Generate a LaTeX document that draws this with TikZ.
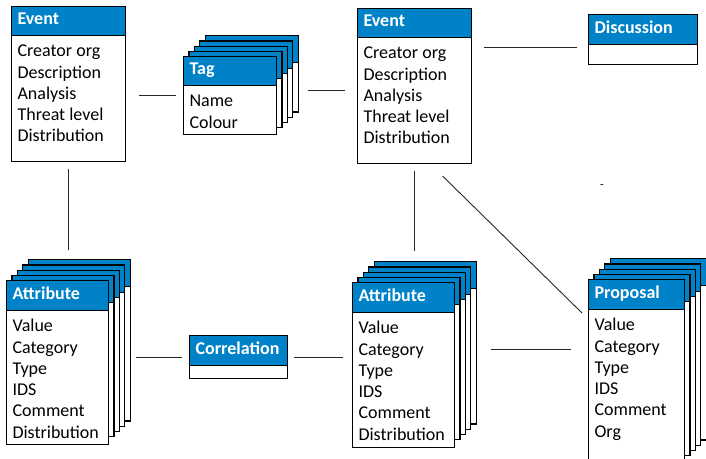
\documentclass[tikz,border=0pt]{standalone}
\usepackage{fontspec}
\setmainfont{Carlito}
\usepackage{tikz}
\usetikzlibrary{shapes}
\usetikzlibrary{shapes.multipart}

\definecolor{hdrblue}{RGB}{0,130,200}
\newcommand{\clshead}[1]{\rule[-4pt]{0pt}{14pt}\textcolor{white}{\bfseries #1}}
\newcommand{\clsbody}[3]{\parbox[t][#1][t]{#2}{\strut #3}}
\newcommand{\clsblank}[2]{\rule{#1}{0pt}\rule{0pt}{#2}}

\tikzset{
  cls/.style={draw, line width=1.1pt,
    rectangle split, rectangle split parts=2,
    rectangle split part fill={hdrblue,white},
    rectangle split part align={left},
    anchor=north west, inner xsep=6pt, inner ysep=6pt,
    font=\fontsize{18}{21.3}\selectfont},
  layer/.style={cls, xshift=#1*5.4pt, yshift=#1*5.2pt},
  link/.style={line width=0.9pt, black!85}
}

\begin{document}
\begin{tikzpicture}[x=1pt,y=-1pt]
\useasboundingbox (0,0) rectangle (706,458);

\node[cls] (evA) at (11,6)
  {\clshead{Event}
     \nodepart{second} \clsbody{113pt}{102pt}{Creator org\\ Description\\ Analysis\\ Threat level\\ Distribution}};

\foreach \k in {4,3,2,1}
  \node[layer=\k] (tag\k) at (183,56)
    {\clshead{} \nodepart{second} \clsbody{36pt}{81pt}{}};
\node[cls] (tag) at (183,56)
  {\clshead{Tag}
     \nodepart{second} \clsbody{36pt}{81pt}{Name\\ Colour}};

\node[cls] (evB) at (357,8)
  {\clshead{Event}
     \nodepart{second} \clsbody{113pt}{102pt}{Creator org\\ Description\\ Analysis\\ Threat level\\ Distribution}};

\node[cls] (disc) at (588,14)
  {\clshead{Discussion}
     \nodepart{second} \clsblank{97pt}{7pt}};

\node[font=\fontsize{12}{12}\selectfont] (stray) at (602,187) {-};

\foreach \k in {4,3,2,1}
  \node[layer=\k] (attrA\k) at (6,280)
    {\clshead{} \nodepart{second} \clsbody{121pt}{90pt}{}};
\node[cls] (attrA) at (6,280)
  {\clshead{Attribute}
     \nodepart{second} \clsbody{121pt}{90pt}{Value\\ Category\\ Type\\ IDS\\ Comment\\ Distribution}};

\node[cls] (corr) at (189,335)
  {\clshead{Correlation}
     \nodepart{second} \clsblank{86pt}{0pt}};

\foreach \k in {4,3,2,1}
  \node[layer=\k] (attrB\k) at (352,282)
    {\clshead{} \nodepart{second} \clsbody{122pt}{90pt}{}};
\node[cls] (attrB) at (352,282)
  {\clshead{Attribute}
     \nodepart{second} \clsbody{122pt}{90pt}{Value\\ Category\\ Type\\ IDS\\ Comment\\ Distribution}};

\foreach \k in {4,3,2,1}
  \node[layer=\k] (prop\k) at (588,279)
    {\clshead{} \nodepart{second} \clsbody{141pt}{84pt}{}};
\node[cls] (prop) at (588,279)
  {\clshead{Proposal}
     \nodepart{second} \clsbody{141pt}{84pt}{Value\\ Category\\ Type\\ IDS\\ Comment\\ Org}};

% connectors
\coordinate (tagR) at ([yshift=-16.3pt]tag4.east);
\coordinate (discL) at ([yshift=-3pt]disc.text split west);
\coordinate (propL) at ([yshift=22pt]prop.west);

\draw[link, shorten <=13pt, shorten >=7pt] (evA.east |- tag.west) -- (tag.west);
\draw[link, shorten <=9pt, shorten >=12pt] (tagR) -- (tagR -| evB.west);
\draw[link, shorten <=12pt, shorten >=11pt] (evB.east |- discL) -- (discL);
\draw[link, shorten <=7pt, shorten >=9pt] (evA.south) -- (evA.south |- attrA4.north);
\draw[link, shorten <=7pt, shorten >=10pt] (evB.south) -- (evB.south |- attrB4.north);
\draw[link] ([xshift=28pt,yshift=-12pt]evB.south) -- ([xshift=-6pt,yshift=-34pt]prop.north west);
\draw[link, shorten <=5pt, shorten >=7pt] (attrA4.east |- corr.west) -- (corr.west);
\draw[link, shorten <=6pt, shorten >=9pt] (corr.east) -- (corr.east -| attrB.west);
\draw[link, shorten <=14pt, shorten >=17pt] (attrB4.east |- propL) -- (propL);
\end{tikzpicture}
\end{document}
